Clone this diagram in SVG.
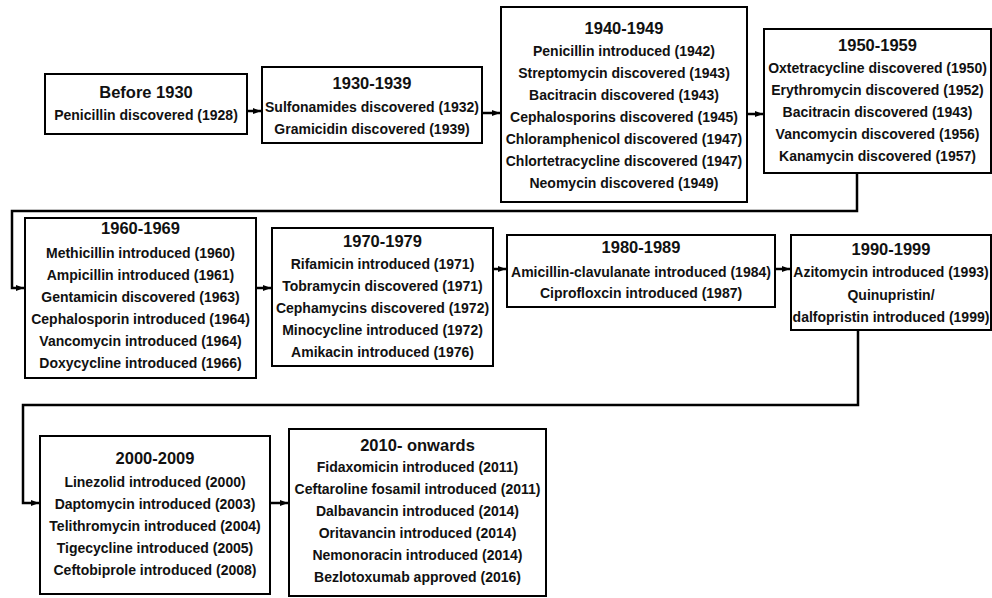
<svg xmlns="http://www.w3.org/2000/svg" width="992" height="598" viewBox="0 0 992 598">
<style>
.box{fill:#fff;stroke:#000;stroke-width:2}
.t{font-family:"Liberation Sans",Arial,sans-serif;font-weight:bold;font-size:16.5px;text-anchor:middle;fill:#111}
.l{font-family:"Liberation Sans",Arial,sans-serif;font-weight:bold;font-size:14px;text-anchor:middle;fill:#111}
.c{fill:none;stroke:#000;stroke-width:2.5}
</style>
<defs>
<marker id="ah" markerUnits="userSpaceOnUse" markerWidth="9" markerHeight="7" refX="8" refY="3.5" orient="auto">
<path d="M0,0.5 L8,3.5 L0,6.5 z" fill="#000"/>
</marker>
</defs>
<rect width="992" height="598" fill="#fff"/>
<g id="connectors">
<line class="c" x1="247" y1="111" x2="261" y2="111" marker-end="url(#ah)"/>
<line class="c" x1="482" y1="113" x2="500" y2="113" marker-end="url(#ah)"/>
<line class="c" x1="747" y1="114" x2="763" y2="114" marker-end="url(#ah)"/>
<path class="c" d="M857,173 V211 H12 V288 H24" marker-end="url(#ah)"/>
<line class="c" x1="256" y1="288" x2="271" y2="288" marker-end="url(#ah)"/>
<line class="c" x1="493" y1="269" x2="506" y2="269" marker-end="url(#ah)"/>
<line class="c" x1="775" y1="269" x2="790" y2="269" marker-end="url(#ah)"/>
<path class="c" d="M858,330 V405 H23 V503 H39" marker-end="url(#ah)"/>
<line class="c" x1="270" y1="503" x2="288" y2="503" marker-end="url(#ah)"/>
</g>
<g id="n1">
<rect class="box" x="45" y="74" width="202" height="60"/>
<text class="t" x="146" y="98">Before 1930</text>
<text class="l" x="146" y="120">Penicillin discovered (1928)</text>
</g>
<g id="n2">
<rect class="box" x="262" y="67" width="220" height="76"/>
<text class="t" x="372" y="89">1930-1939</text>
<text class="l" x="372" y="112">Sulfonamides discovered (1932)</text>
<text class="l" x="372" y="134">Gramicidin discovered (1939)</text>
</g>
<g id="n3">
<rect class="box" x="501" y="7" width="246" height="195"/>
<text class="t" x="624" y="34">1940-1949</text>
<text class="l" x="624" y="56">Penicillin introduced (1942)</text>
<text class="l" x="624" y="78">Streptomycin discovered (1943)</text>
<text class="l" x="624" y="100">Bacitracin discovered (1943)</text>
<text class="l" x="624" y="122">Cephalosporins discovered (1945)</text>
<text class="l" x="624" y="144">Chloramphenicol discovered (1947)</text>
<text class="l" x="624" y="166">Chlortetracycline discovered (1947)</text>
<text class="l" x="624" y="188">Neomycin discovered (1949)</text>
</g>
<g id="n4">
<rect class="box" x="764" y="29" width="227" height="144"/>
<text class="t" x="877.5" y="51">1950-1959</text>
<text class="l" x="877.5" y="73">Oxtetracycline discovered (1950)</text>
<text class="l" x="877.5" y="95">Erythromycin discovered (1952)</text>
<text class="l" x="877.5" y="117">Bacitracin discovered (1943)</text>
<text class="l" x="877.5" y="139">Vancomycin discovered (1956)</text>
<text class="l" x="877.5" y="161">Kanamycin discovered (1957)</text>
</g>
<g id="n5">
<rect class="box" x="25" y="218" width="231" height="160"/>
<text class="t" x="140.5" y="234">1960-1969</text>
<text class="l" x="140.5" y="258">Methicillin introduced (1960)</text>
<text class="l" x="140.5" y="280">Ampicillin introduced (1961)</text>
<text class="l" x="140.5" y="302">Gentamicin discovered (1963)</text>
<text class="l" x="140.5" y="324">Cephalosporin introduced (1964)</text>
<text class="l" x="140.5" y="346">Vancomycin introduced (1964)</text>
<text class="l" x="140.5" y="368">Doxycycline introduced (1966)</text>
</g>
<g id="n6">
<rect class="box" x="272" y="228" width="221" height="138"/>
<text class="t" x="382.5" y="247">1970-1979</text>
<text class="l" x="382.5" y="269">Rifamicin introduced (1971)</text>
<text class="l" x="382.5" y="291">Tobramycin discovered (1971)</text>
<text class="l" x="382.5" y="313">Cephamycins discovered (1972)</text>
<text class="l" x="382.5" y="335">Minocycline introduced (1972)</text>
<text class="l" x="382.5" y="357">Amikacin introduced (1976)</text>
</g>
<g id="n7">
<rect class="box" x="507" y="235" width="268" height="72"/>
<text class="t" x="641" y="253">1980-1989</text>
<text class="l" x="641" y="277">Amicillin-clavulanate introduced (1984)</text>
<text class="l" x="641" y="298">Ciprofloxcin introduced (1987)</text>
</g>
<g id="n8">
<rect class="box" x="791" y="235" width="200" height="95"/>
<text class="t" x="891" y="255">1990-1999</text>
<text class="l" x="891" y="277">Azitomycin introduced (1993)</text>
<text class="l" x="891" y="300">Quinupristin/</text>
<text class="l" x="891" y="322">dalfopristin introduced (1999)</text>
</g>
<g id="n9">
<rect class="box" x="40" y="436" width="230" height="158"/>
<text class="t" x="155" y="464">2000-2009</text>
<text class="l" x="155" y="487">Linezolid introduced (2000)</text>
<text class="l" x="155" y="509">Daptomycin introduced (2003)</text>
<text class="l" x="155" y="531">Telithromycin introduced (2004)</text>
<text class="l" x="155" y="553">Tigecycline introduced (2005)</text>
<text class="l" x="155" y="575">Ceftobiprole introduced (2008)</text>
</g>
<g id="n10">
<rect class="box" x="289" y="429" width="257" height="167"/>
<text class="t" x="417.5" y="451">2010- onwards</text>
<text class="l" x="417.5" y="472">Fidaxomicin introduced (2011)</text>
<text class="l" x="417.5" y="494">Ceftaroline fosamil introduced (2011)</text>
<text class="l" x="417.5" y="516">Dalbavancin introduced (2014)</text>
<text class="l" x="417.5" y="538">Oritavancin introduced (2014)</text>
<text class="l" x="417.5" y="560">Nemonoracin introduced (2014)</text>
<text class="l" x="417.5" y="582">Bezlotoxumab approved (2016)</text>
</g>
</svg>
